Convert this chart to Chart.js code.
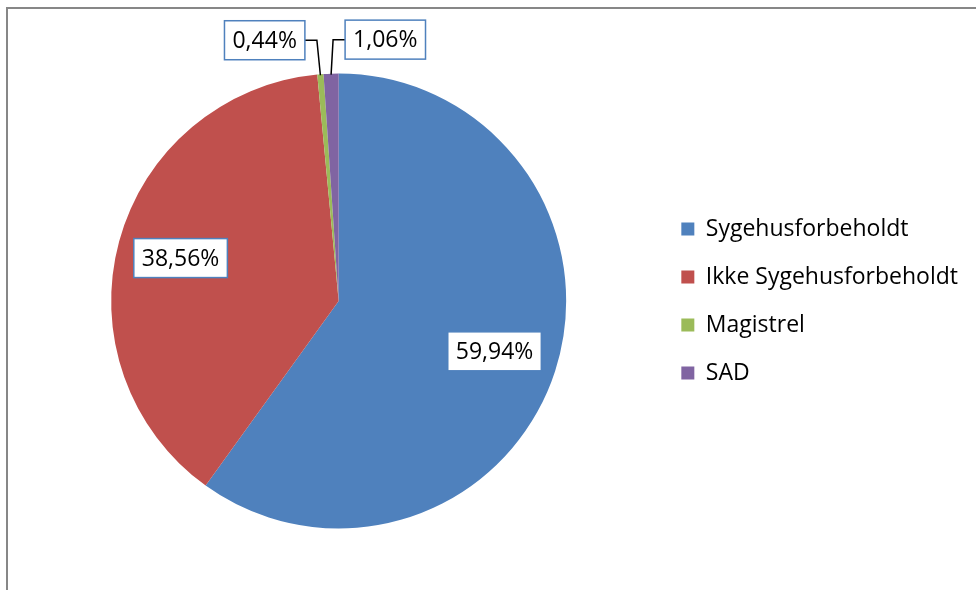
<!DOCTYPE html>
<html>
<head>
<meta charset="utf-8">
<script src="https://cdn.jsdelivr.net/npm/chart.js@4.4.0/dist/chart.umd.min.js"></script>
<style>
  html, body { margin: 0; padding: 0; background: #fff; }
  body { width: 976px; height: 590px; overflow: hidden; position: relative; }
  /* grå ramme om diagramområdet (kun top og venstre er synlige) */
  #ramme { position: absolute; left: 6px; top: 7px; width: 1200px; height: 1000px;
           border: 2px solid #878787; box-sizing: border-box; }
  #wrap  { position: absolute; left: 0; top: 0; width: 976px; height: 590px; }
</style>
</head>
<body>
<div id="ramme"></div>
<div id="wrap"><canvas id="kage"></canvas></div>
<script>
// ── Data ──────────────────────────────────────────────────────────────
const kategorier = ["Sygehusforbeholdt", "Ikke Sygehusforbeholdt", "Magistrel", "SAD"];
const andele     = [59.94, 38.56, 0.44, 1.06];
const farver     = ["#4F81BD", "#C0504D", "#9BBB59", "#8064A2"];

const SKRIFT   = "'Open Sans', 'Liberation Sans', sans-serif";
const STR      = 23;
const KANT     = "#4F81BD";

function procent(v) {
  return v.toFixed(2).replace(".", ",") + "%";
}

// Dataetiketter: store skiver får etiketten inde i skiven,
// små skiver får etiketten udenfor med en knækket hjælpelinje.
const etiketter = {
  id: "etiketter",
  afterDatasetsDraw(chart) {
    const ctx  = chart.ctx;
    const meta = chart.getDatasetMeta(0);
    let udenfor = 0;
    ctx.save();
    ctx.font = `${STR}px ${SKRIFT}`;
    ctx.textAlign = "center";
    ctx.textBaseline = "middle";

    meta.data.forEach((arc, i) => {
      const p   = arc.getProps(["x", "y", "startAngle", "endAngle", "outerRadius"], true);
      const mid = (p.startAngle + p.endAngle) / 2;
      const tekst = procent(andele[i]);
      const w = ctx.measureText(tekst).width + 16;
      const h = 39;
      let cx, cy;

      if (andele[i] > 5) {
        cx = p.x + Math.cos(mid) * p.outerRadius * 0.72;
        cy = p.y + Math.sin(mid) * p.outerRadius * 0.72;
      } else {
        const side = udenfor++ === 0 ? -1 : 1;
        const ax = p.x + Math.cos(mid) * p.outerRadius;
        const ay = p.y + Math.sin(mid) * p.outerRadius + 1;
        const kx = ax + side * (side < 0 ? 3.5 : 2);
        const ky = ay - 35;
        const ex = kx + side * 12;
        ctx.strokeStyle = "#000";
        ctx.lineWidth = 1.5;
        ctx.beginPath();
        ctx.moveTo(ax, ay);
        ctx.lineTo(kx, ky);
        ctx.lineTo(ex, ky);
        ctx.stroke();
        cx = ex + side * w / 2;
        cy = ky;
      }

      ctx.fillStyle = "#fff";
      ctx.fillRect(cx - w / 2, cy - h / 2, w, h);
      ctx.strokeStyle = KANT;
      ctx.lineWidth = 1.5;
      ctx.strokeRect(cx - w / 2, cy - h / 2, w, h);
      ctx.fillStyle = "#000";
      ctx.fillText(tekst, cx, cy + 1);
    });
    ctx.restore();
  }
};

new Chart(document.getElementById("kage"), {
  type: "pie",
  data: {
    labels: kategorier,
    datasets: [{
      data: andele,
      backgroundColor: farver,
      borderWidth: 0,
    }],
  },
  options: {
    responsive: true,
    maintainAspectRatio: false,
    animation: false,
    events: [],
    layout: { padding: { left: 21, right: 8, top: 73.5, bottom: 61.5 } },
    plugins: {
      tooltip: { enabled: false },
      legend: {
        position: "right",
        align: "center",
        labels: {
          boxWidth: 13,
          boxHeight: 13,
          padding: 25,
          color: "#000",
          font: { family: SKRIFT, size: STR },
        },
      },
    },
  },
  plugins: [etiketter],
});
</script>
</body>
</html>
